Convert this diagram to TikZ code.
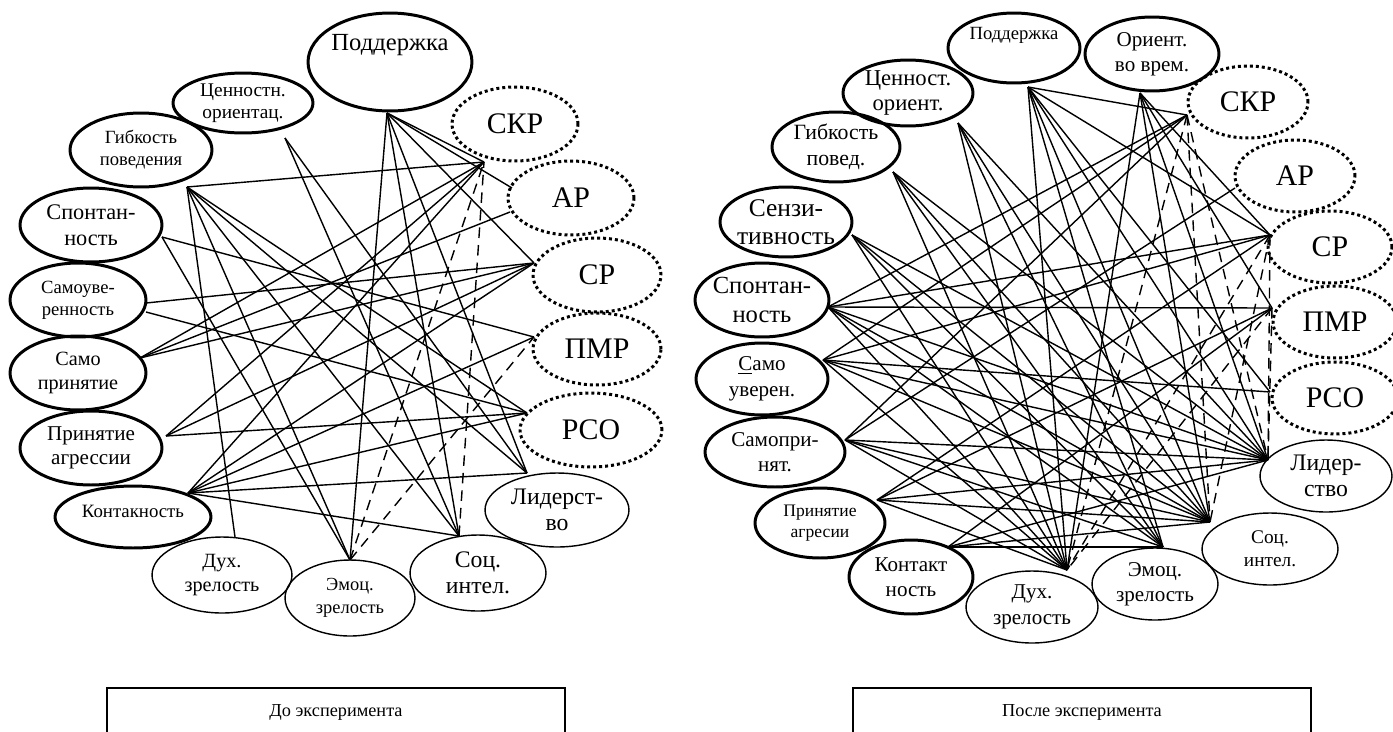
\documentclass[tikz,border=0pt]{standalone}
\usepackage{fontspec}
\setmainfont{Liberation Serif}
\usetikzlibrary{shapes.geometric}

\tikzset{
  trait/.style={draw, ellipse, line width=1.7pt, inner xsep=-4pt, inner ysep=-3pt, align=center},
  soft/.style={draw, ellipse, line width=0.8pt, inner xsep=-4pt, inner ysep=-3pt, align=center},
  group/.style={draw, ellipse, line width=1.7pt, dash pattern=on 1.7pt off 1.7pt,
    inner sep=0pt, font=\fontsize{17}{20}\selectfont},
  sz/.style 2 args={minimum width=#1*0.04cm, minimum height=#2*0.04cm},
  fs/.style 2 args={font=\fontsize{#1}{#2}\selectfont},
  link/.style={line width=0.8pt},
  weak/.style={line width=0.8pt, dash pattern=on 6pt off 4pt},
  capbox/.style={draw, line width=0.9pt, minimum width=9.16cm, minimum height=0.96cm,
    font=\fontsize{10.4}{12}\selectfont}
}

\begin{document}
\begin{tikzpicture}[x=0.02cm, y=-0.02cm]
  \useasboundingbox (0,0) rectangle (1393,731);

  % до эксперимента
  \node [trait, sz={82}{49}, fs={14}{16}] (lpod) at (390,62) {\raisebox{22pt}{Поддержка}};
  \node [trait, sz={70}{30}, fs={11}{12.5}] (lcen) at (243,103) {Ценностн.\\ориентац.};
  \node [trait, sz={71}{37}, fs={10.6}{12.5}] (lgib) at (141,150) {Гибкость\\поведения};
  \node [trait, sz={71}{37}, fs={12.7}{14.5}] (lspo) at (91,225) {Спонтан-\\ность};
  \node [trait, sz={68}{37}, fs={10.6}{12.5}] (lsuv) at (78,300) {Самоуве-\\ренность};
  \node [trait, sz={68}{37}, fs={11.5}{13.5}] (lspr) at (78,373) {Само\\принятие};
  \node [trait, sz={71}{37}, fs={12}{14}] (lagr) at (91,448) {Принятие\\агрессии};
  \node [trait, sz={78}{31}, fs={10.7}{12.5}] (lkon) at (133,517) {\raisebox{6pt}{Контакность}};
  \node [soft, sz={70}{38}, fs={11.5}{14}] (lduh) at (222,575) {Дух.\\зрелость};
  \node [soft, sz={65}{38}, fs={10.5}{13}] (lemo) at (350,598) {Эмоц.\\зрелость};
  \node [soft, sz={68}{38}, fs={13.5}{15}] (lsoc) at (478,573) {Соц.\\интел.};
  \node [soft, sz={72}{37}, fs={13.5}{15}] (llid) at (557,510) {Лидерст-\\во};
  \node [group, sz={71}{37}] (lrso) at (591,430) {РСО};
  \node [group, sz={64}{36}] (lpmr) at (597,349) {ПМР};
  \node [group, sz={64}{37}] (lsr) at (597,275) {СР};
  \node [group, sz={63}{37}] (lar) at (571,198) {АР};
  \node [group, sz={63}{37}] (lskr) at (515,124) {СКР};

  \coordinate (lgib-p) at (187,187);
  \coordinate (lcen-p) at (285,138);
  \coordinate (lpod-p) at (387,113);
  \coordinate (lskr-p) at (484,162);
  \coordinate (lar-p) at (512,188);
  \coordinate (lar-q) at (510,212);
  \coordinate (lsr-p) at (534,263);
  \coordinate (lpmr-p) at (534,337);
  \coordinate (lrso-p) at (527,413);
  \coordinate (llid-p) at (527,473);
  \coordinate (lsoc-p) at (459,536);
  \coordinate (lemo-p) at (350,560);
  \coordinate (lduh-p) at (235,537);
  \coordinate (lkon-p) at (188,493);
  \coordinate (lagr-p) at (166,436);
  \coordinate (lspr-p) at (140,358);
  \coordinate (lsuv-p) at (146,303);
  \coordinate (lsuv-q) at (146,312);
  \coordinate (lspo-p) at (162,237);

  \foreach \b in {lskr,lduh,lemo,lsoc,llid,lrso} \draw [link] (lgib-p) -- (\b-p);
  \foreach \b in {lsoc,llid} \draw [link] (lcen-p) -- (\b-p);
  \foreach \b in {lskr,lar,lsr,llid,lsoc,lemo} \draw [link] (lpod-p) -- (\b-p);
  \foreach \b in {lpmr,lemo} \draw [link] (lspo-p) -- (\b-p);
  \draw [link] (lsuv-p) -- (lsr-p);
  \draw [link] (lsuv-q) -- (lrso-p);
  \foreach \b in {lskr-p,lar-q,lsr-p} \draw [link] (lspr-p) -- (\b);
  \foreach \b in {lskr,lsr,lrso} \draw [link] (lagr-p) -- (\b-p);
  \foreach \b in {lskr,lsr,lpmr,lrso,llid,lsoc} \draw [link] (lkon-p) -- (\b-p);
  \foreach \a/\b in {lemo/lskr,lemo/lpmr,lsoc/lskr} \draw [weak] (\a-p) -- (\b-p);

  % после эксперимента
  \node [trait, sz={66}{35}, fs={10.6}{12}] (rpod) at (1014,48) {\raisebox{17pt}{Поддержка}};
  \node [trait, sz={67}{37}, fs={12}{14}] (rori) at (1152,54) {Ориент.\\во врем.};
  \node [trait, sz={65}{33}, fs={12.9}{14.5}] (rcen) at (908,93) {Ценност.\\ориент.};
  \node [trait, sz={64}{35}, fs={12.4}{14.5}] (rgib) at (836,147) {Гибкость\\повед.};
  \node [trait, sz={66}{35}, fs={14.5}{16}] (rsen) at (786,222) {Сензи-\\тивность};
  \node [trait, sz={67}{37}, fs={14}{16}] (rspo) at (762,300) {Спонтан-\\ность};
  \node [trait, sz={66}{36}, fs={12}{14.5}] (rsuv) at (762,379) {\underline{С}амо\\уверен.};
  \node [trait, sz={70}{35}, fs={12}{14.5}] (rspr) at (775,452) {Самопри-\\нят.};
  \node [trait, sz={65}{35}, fs={10}{12}] (ragr) at (820,523) {Принятие\\агресии};
  \node [trait, sz={62}{37}, fs={12}{14.5}] (rkon) at (911,577) {Контакт\\ность};
  \node [soft, sz={66}{36}, fs={12}{15}] (rduh) at (1032,607) {Дух.\\зрелость};
  \node [soft, sz={63}{36}, fs={12}{14}] (remo) at (1155,584) {Эмоц.\\зрелость};
  \node [soft, sz={68}{36}, fs={11}{13}] (rsoc) at (1270,549) {Соц.\\интел.};
  \node [soft, sz={66}{36}, fs={13.5}{15}] (rlid) at (1326,476) {Лидер-\\ство};
  \node [group, sz={63}{36}] (rrso) at (1335,398) {РСО};
  \node [group, sz={62}{36}] (rpmr) at (1335,322) {ПМР};
  \node [group, sz={62}{36}] (rsr) at (1330,247) {СР};
  \node [group, sz={60}{36}] (rar) at (1295,176) {АР};
  \node [group, sz={60}{36}] (rskr) at (1248,102) {СКР};

  \coordinate (rpod-p) at (1028,87);
  \coordinate (rori-p) at (1140,93);
  \coordinate (rskr-p) at (1187,115);
  \coordinate (rar-p) at (1235,188);
  \coordinate (rsr-p) at (1270,235);
  \coordinate (rpmr-p) at (1272,308);
  \coordinate (rrso-p) at (1270,392);
  \coordinate (rlid-p) at (1268,460);
  \coordinate (rsoc-p) at (1210,522);
  \coordinate (remo-p) at (1163,547);
  \coordinate (rduh-p) at (1067,570);
  \coordinate (rkon-p) at (948,547);
  \coordinate (ragr-p) at (877,500);
  \coordinate (rspr-p) at (845,440);
  \coordinate (rsuv-p) at (823,360);
  \coordinate (rspo-p) at (828,307);
  \coordinate (rsen-p) at (852,235);
  \coordinate (rgib-p) at (893,172);
  \coordinate (rcen-p) at (958,123);

  \foreach \b in {rskr,rsr,rduh,remo,rsoc,rlid,rrso} \draw [link] (rpod-p) -- (\b-p);
  \foreach \b in {rduh,rsoc,rlid,rsr,rpmr} \draw [link] (rori-p) -- (\b-p);
  \foreach \b in {rduh,remo,rsoc,rlid} \draw [link] (rcen-p) -- (\b-p);
  \foreach \b in {rduh,remo,rsoc,rlid} \draw [link] (rgib-p) -- (\b-p);
  \foreach \b in {rduh,remo,rsoc,rlid} \draw [link] (rsen-p) -- (\b-p);
  \foreach \b in {rskr,rsr,rpmr,rlid,rsoc,rduh,remo} \draw [link] (rspo-p) -- (\b-p);
  \foreach \b in {rskr,rsr,rrso,rlid,rsoc,rduh} \draw [link] (rsuv-p) -- (\b-p);
  \foreach \b in {rskr,rar,rlid,rsoc,rduh,remo} \draw [link] (rspr-p) -- (\b-p);
  \foreach \b in {rpmr,rsr,rlid,rsoc,rduh} \draw [link] (ragr-p) -- (\b-p);
  \foreach \b in {remo,rsoc,rlid,rpmr} \draw [link] (rkon-p) -- (\b-p);
  \foreach \a/\b in {rskr/rduh,rskr/rsoc,rskr/rlid,rsr/rlid,rsr/rduh,rsr/rsoc,rpmr/rduh,rpmr/rlid}
    \draw [weak] (\a-p) -- (\b-p);

  % подписи
  \node [capbox] (lcap) at (336,712) {До эксперимента};
  \node [capbox] (rcap) at (1082,712) {После эксперимента};
\end{tikzpicture}
\end{document}
